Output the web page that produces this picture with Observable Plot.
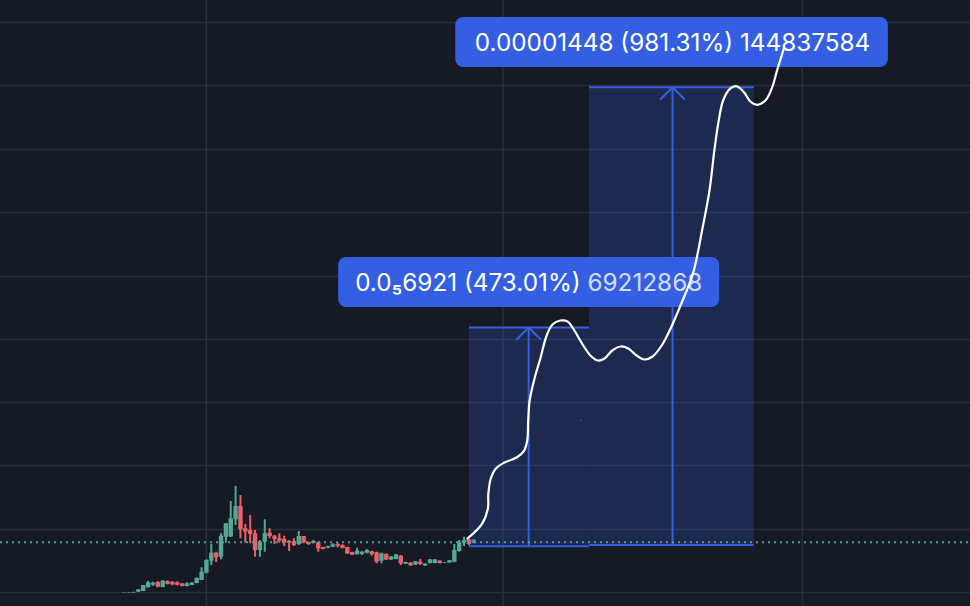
<!DOCTYPE html>
<html>
<head>
<meta charset="utf-8">
<script src="https://cdn.jsdelivr.net/npm/d3@7"></script>
<script src="https://cdn.jsdelivr.net/npm/@observablehq/plot@0.6"></script>
<style>html,body{margin:0;padding:0;background:#161a25;overflow:hidden}svg{display:block}</style>
</head>
<body>
<div id="chart"></div>
<script>
// x unit: bar index. y unit: chart price steps (1 unit = about 0.0287e-6 of price)
const opens = [13.7,13.7,13.5,14.3,15,18.7,21.3,24,19,25,24,23.7,22.7,20,21,23,26,33.3,45.3,53.3,49.3,69.3,69.3,86.7,100,77.7,76,72.7,56,64.3,73.3,70.3,67.7,67,65,65,62,
 70,64,63,63.7,59,58.3,59.3,62,61,59,54,51.7,52,53.3,54.7,53.7,45.3,52,46.5,47,50.3,42.3,43.5,41.5,44.3,40.6,43,43,45.4,43.2,43.5,44.3,55,63.7,66.7,63];
const closes = [14,14,14,16.7,21,23.7,23.3,19.3,25.3,22,21.7,21.3,20,22.7,23.5,28,34.3,46,53.3,48.7,70.3,82.7,87.7,100,76.7,74.3,72,56,64.3,72.7,70,67,65.3,63.3,63.3,61,70,
 63.7,62,65,57.7,57,60,61.7,60.3,58,52.5,51.2,55.3,54.3,56,52,44.3,52.7,46.3,49.5,51.5,42.7,44,40.6,44.7,42,42.4,46.5,46.5,42.9,43.8,45.8,56,63.7,66,62,66];
const highs = [14,14,14.3,16.7,21,25,24.3,25,26,25.7,25,24.7,22.7,23.7,23.7,28.7,38.7,46.7,62,54.3,72.7,82.7,105,120,111,82,91,76,66,86.7,77.7,71,72.7,70.3,66,67.7,75,
 70,64.3,66,64.3,59.3,60.3,62.7,63.3,61.7,59.3,54.3,58.3,55,57,55.3,54.3,53.3,52.7,50,52,51,44.3,43.7,45,47,42.7,47,47,45.7,44,46,62,66,69.3,67.7,67];
const lows = [13.5,13.5,13.3,14.3,15,18.7,20.3,18.7,18.7,21.7,20.7,20.7,19.7,19.7,20.7,22.7,26,32.7,41,44,46.7,63.3,69.3,81,67.7,63.3,62.7,49.3,49.3,54.3,67.7,62,63.3,60,55,60,61,
 62.7,61,62.7,54.3,56.7,57.7,58.7,58.7,57.7,52,51,51.7,51,52.7,50.3,42.7,42.7,46,46,46.7,41,42,40.3,41,41,40.3,42.7,42.7,42.7,43,43.3,43.7,54.3,60,61,62.7];
const curveX = [70.7,73.7,74.9,75,75.5,76.5,78.2,80.9,82.3,83,83.2,83.5,84.5,85.7,87,88.2,89.8,91.3,92.7,94.4,96,97.5,98.9,100.5,102.2,103.8,105.5,107.1,108.8,110.8,112.5,114.7,117.1,119.1,120.5,121.5,122.3,123.3,124.7,126,127.6,128.9,130.3,132,133.4,134.4,135.8];
const curveY = [68,82.7,97.7,112.7,128,137.7,143.7,149.3,155.3,166,186,206,228,248,271,282,286,285,276,262,251,246,248,256,260,258,251,247,250,262,278,303,333,379.3,416,456,483,506,517.7,520.3,514.3,505,501.7,506,519.3,536,558];
const gridX = [17,78,139.6];
const gridY = [14,77,141,204,267,330,394,457,521,584];
const lastPrice = 64.3;
const speckX = [94];
const speckY = [186];
const labelFirst = "0.0₅6921 (473.01%) 69212868";
const labelSecond = "0.00001448 (981.31%) 144837584";
const rangeFirst = {x1:71.1,x2:95.8,y1:60.3,y2:279,arrow:83.3,lx1:44.2,lx2:122.6,ly1:299,ly2:349};
const rangeSecond = {x1:95.8,x2:129.7,y1:61.5,y2:519.3,arrow:112.9,lx1:68.3,lx2:157.3,ly1:539,ly2:589};

const bg="#161a25", grid="#2b2f3b", up="#55a892", down="#ea6169", blue="#355fe2";
const bars = opens.map((o,i)=>({i,o,c:closes[i],h:highs[i],l:lows[i],col:closes[i]>=o?up:down}));
const curve = curveX.map((x,i)=>({x,y:curveY[i]}));
const specks = speckX.map((x,i)=>({x,y:speckY[i]}));

function rangeMarks(r,label){
  const lines=[r.y1,r.y2];
  return [
    Plot.rect([r],{x1:"x1",x2:"x2",y1:"y1",y2:"y2",fill:blue,fillOpacity:0.22}),
    Plot.ruleY(lines,{x1:r.x1,x2:r.x2,stroke:blue,strokeWidth:2}),
    Plot.arrow([r],{x1:"arrow",x2:"arrow",y1:"y1",y2:"y2",stroke:blue,strokeWidth:2,headLength:12.5,headAngle:90,inset:0}),
    Plot.rect([r],{x1:"lx1",x2:"lx2",y1:"ly1",y2:"ly2",fill:blue,rx:8,ry:8}),
    Plot.text([r],{x:"arrow",y:d=>(d.ly1+d.ly2)/2,dy:1,text:()=>label,fill:"#fff",fontSize:24.3,fontFamily:"Inter",textAnchor:"middle",lineAnchor:"middle"})
  ];
}

const chart = Plot.plot({
  width:970,height:606,
  marginTop:0,marginRight:0,marginBottom:0,marginLeft:0,
  x:{domain:[-25.37,174.2],range:[0,970],axis:null},
  y:{domain:[0,606],range:[606,0],axis:null},
  style:{background:bg},
  marks:[
    Plot.ruleY(gridY,{stroke:grid,strokeWidth:1.5}),
    Plot.ruleX(gridX,{stroke:grid,strokeWidth:1.5}),
    Plot.ruleX(bars,{x:"i",y1:"l",y2:"h",stroke:"col",strokeWidth:2}),
    Plot.ruleX(bars,{x:"i",y1:"o",y2:"c",stroke:"col",strokeWidth:4.4}),
    ...rangeMarks(rangeFirst,labelFirst),
    ...rangeMarks(rangeSecond,labelSecond),
    Plot.ruleY([lastPrice],{stroke:up,strokeWidth:2,strokeDasharray:"2,4",strokeOpacity:0.9}),
    Plot.dot(specks,{x:"x",y:"y",r:0.7,fill:"#5f6f9f"}),
    Plot.line(curve,{x:"x",y:"y",stroke:"#fff",strokeWidth:2.2,curve:"catmull-rom"})
  ]
});
document.getElementById("chart").append(chart);
</script>
</body>
</html>
